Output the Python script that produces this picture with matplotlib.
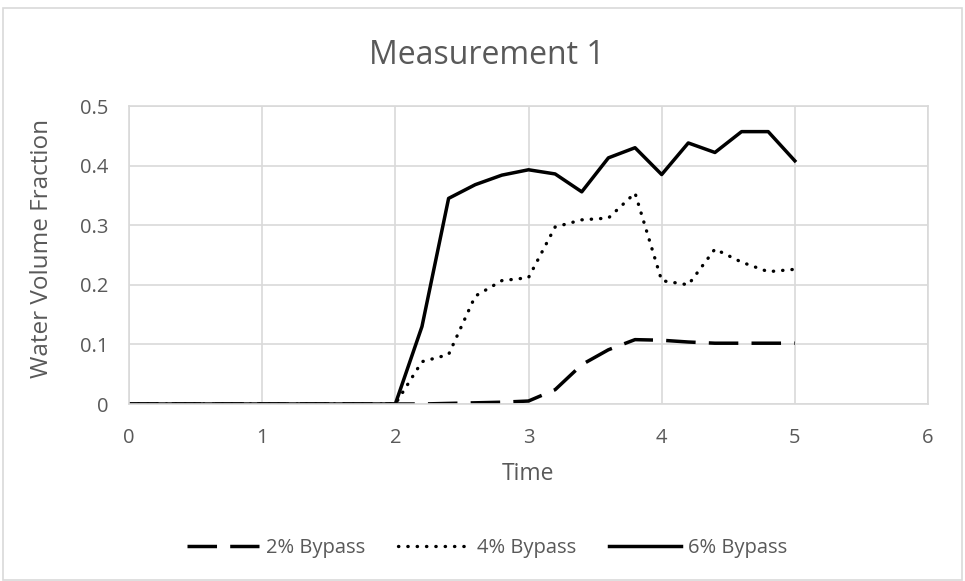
import matplotlib
matplotlib.use("Agg")
import matplotlib.pyplot as plt
from matplotlib.patches import Rectangle

plt.rcParams['font.family'] = ['Open Sans', 'DejaVu Sans']

# data
time = [0.0, 0.2, 0.4, 0.6, 0.8, 1.0, 1.2, 1.4, 1.6, 1.8, 2.0,
        2.2, 2.4, 2.6, 2.8, 3.0, 3.2, 3.4, 3.6, 3.8, 4.0,
        4.2, 4.4, 4.6, 4.8, 5.0]
bypass_2 = [0, 0, 0, 0, 0, 0, 0, 0, 0, 0, 0,
            0.0, 0.001, 0.002, 0.003, 0.005, 0.024, 0.066, 0.091, 0.108, 0.107,
            0.104, 0.102, 0.102, 0.102, 0.102]
bypass_4 = [0, 0, 0, 0, 0, 0, 0, 0, 0, 0, 0,
            0.071, 0.083, 0.181, 0.207, 0.212, 0.297, 0.309, 0.312, 0.354, 0.207,
            0.200, 0.260, 0.238, 0.222, 0.226]
bypass_6 = [0, 0, 0, 0, 0, 0, 0, 0, 0, 0, 0,
            0.130, 0.345, 0.368, 0.384, 0.393, 0.386, 0.356, 0.413, 0.430, 0.385,
            0.438, 0.422, 0.457, 0.457, 0.408]
labels = ["2% Bypass", "4% Bypass", "6% Bypass"]

grey = '#595959'
grid = '#d9d9d9'

fig = plt.figure(figsize=(9.65, 5.81), dpi=100)
fig.patches.append(Rectangle((3 / 965, 0.002), 959 / 965, 1 - 9 / 581, transform=fig.transFigure,
                             fill=False, edgecolor=grid, linewidth=1.2))
ax = fig.add_axes([129 / 965, 1 - 404 / 581, 799 / 965, 298 / 581])

ax.plot(time, bypass_2, color='black', linewidth=2.5, linestyle=(0, (8.5, 3.8)), label=labels[0])
ax.plot(time, bypass_4, color='black', linewidth=2.4, linestyle=(0, (0.1, 2.7)),
        dash_capstyle='round', label=labels[1])
ax.plot(time, bypass_6, color='black', linewidth=2.5, label=labels[2])

ax.set_xlim(0, 6)
ax.set_ylim(0, 0.5)
ax.set_xticks(range(0, 7))
ax.set_yticks([0, 0.1, 0.2, 0.3, 0.4, 0.5])
ax.set_yticklabels(['0', '0.1', '0.2', '0.3', '0.4', '0.5'])
ax.grid(True, color=grid, linewidth=1.2)
ax.set_axisbelow(True)
for s in ax.spines.values():
    s.set_color(grid)
    s.set_linewidth(1.2)
ax.tick_params(length=0, labelsize=14.5, labelcolor=grey)
ax.tick_params(axis='y', pad=15)
ax.tick_params(axis='x', pad=17)

fig.text(487 / 965, 1 - 55 / 581, "Measurement 1", fontsize=23, color=grey, ha='center', va='center')
ax.set_xlabel("Time", fontsize=16.5, color=grey)
ax.set_ylabel("Water Volume Fraction", fontsize=17.5, color=grey)
ax.xaxis.set_label_coords(0.5, (404 - 462) / 298)
ax.yaxis.set_label_coords((54 - 129) / 799, (404 - 248) / 298)

fig.legend(loc='center', bbox_to_anchor=(487 / 965, 1 - 548 / 581), ncol=3, frameon=False,
           fontsize=14.5, labelcolor=grey, handlelength=3.6, handletextpad=0.35, columnspacing=1.6)

fig.savefig("out.png", dpi=100)
